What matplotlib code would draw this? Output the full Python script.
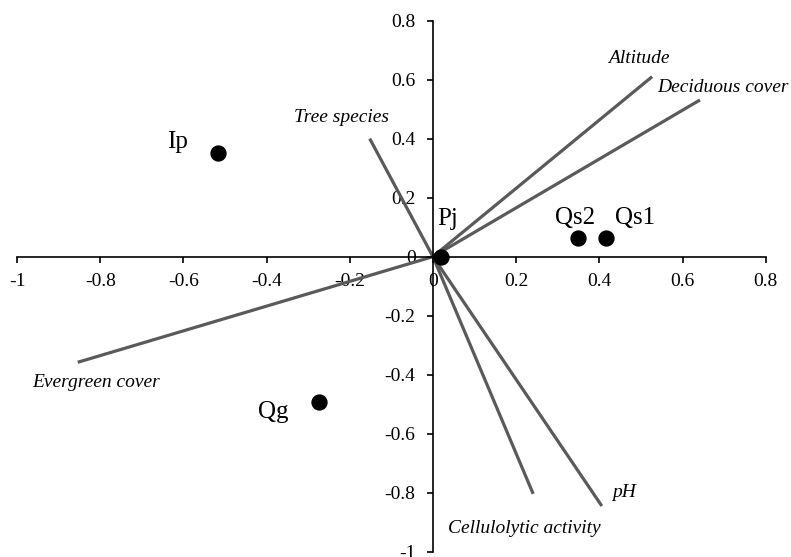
import numpy as np
import matplotlib
matplotlib.use("Agg")
import matplotlib.pyplot as plt

# ===== DATA =====
sites = ["Ip", "Qg", "Pj", "Qs2", "Qs1"]
site_x = [-0.517, -0.273, 0.02, 0.349, 0.416]
site_y = [0.351, -0.493, 0.0, 0.063, 0.063]

variables = ["Altitude", "Deciduous cover", "Tree species", "Evergreen cover",
             "Cellulolytic activity", "pH"]
var_x = [0.527, 0.642, -0.152, -0.854, 0.241, 0.406]
var_y = [0.610, 0.531, 0.400, -0.358, -0.804, -0.845]

x_ticks = [-1, -0.8, -0.6, -0.4, -0.2, 0, 0.2, 0.4, 0.6, 0.8]
y_ticks = [-1, -0.8, -0.6, -0.4, -0.2, 0, 0.2, 0.4, 0.6, 0.8]

# label placement (x center, baseline y)
site_lbl = {"Ip": (-0.615, 0.368), "Qg": (-0.383, -0.547), "Pj": (0.036, 0.107),
            "Qs2": (0.341, 0.111), "Qs1": (0.486, 0.111)}
var_lbl = {"Altitude": (0.496, 0.673, "center"),
           "Deciduous cover": (0.54, 0.572, "left"),
           "Tree species": (-0.22, 0.47, "center"),
           "Evergreen cover": (-0.81, -0.425, "center"),
           "Cellulolytic activity": (0.22, -0.923, "center"),
           "pH": (0.43, -0.80, "left")}

plt.rcParams["font.family"] = ["Liberation Serif", "DejaVu Serif"]

fig = plt.figure(figsize=(7.91, 5.57), dpi=100)
ax = fig.add_axes([0.0215, 0.0095, 0.9465, 0.9535])
ax.set_xlim(-1, 0.8)
ax.set_ylim(-1, 0.8)

# variable vectors
for x, y in zip(var_x, var_y):
    ax.plot([0, x], [0, y], color="#5a5a5a", lw=2.3, solid_capstyle="butt", zorder=2)

# sites
ax.scatter(site_x, site_y, s=115, color="black", zorder=3)

for name in sites:
    tx, ty = site_lbl[name]
    ax.text(tx, ty, name, fontsize=18, ha="center", va="baseline")

for name in variables:
    tx, ty, ha = var_lbl[name]
    ax.text(tx, ty, name, fontsize=14, style="italic", ha=ha, va="center")

ax.spines["left"].set_position(("data", 0))
ax.spines["bottom"].set_position(("data", 0))
ax.spines["right"].set_visible(False)
ax.spines["top"].set_visible(False)
ax.spines["left"].set_linewidth(1.2)
ax.spines["bottom"].set_linewidth(1.2)

ax.set_xticks(x_ticks)
ax.set_yticks(y_ticks)
ax.set_xticklabels([f"{v:g}" for v in x_ticks])
ax.set_yticklabels([f"{v:g}" for v in y_ticks])
ax.tick_params(axis="both", direction="out", length=4.5, width=1.2, labelsize=14)
ax.tick_params(axis="x", pad=7)
ax.tick_params(axis="y", pad=8)

fig.savefig("out.png", dpi=100)
